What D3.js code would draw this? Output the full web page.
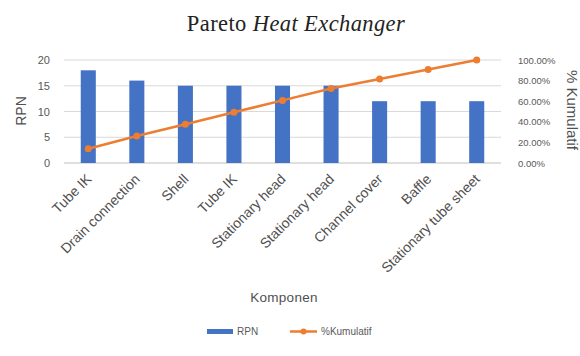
<!DOCTYPE html>
<html><head><meta charset="utf-8">
<script src="https://cdn.jsdelivr.net/npm/d3@7"></script>
<style>body{margin:0;background:#fff}</style>
</head><body>
<svg id="c" width="580" height="356"></svg>
<script>
const categories = ["Tube IK","Drain connection","Shell","Tube IK","Stationary head","Stationary head","Channel cover","Baffle","Stationary tube sheet"];
const rpn = [18,16,15,15,15,15,12,12,12];
const cumulative = [13.85,26.15,37.69,49.23,60.77,72.31,81.54,90.77,100];
const leftTicks = [0,5,10,15,20];
const rightTicks = [0,20,40,60,80,100];

const svg = d3.select("#c");
const L = 64, R = 501, T = 60, B = 163;
const x = d3.scaleBand().domain(categories.map((d,i)=>i)).range([L,R]).paddingInner(0.69).paddingOuter(0.345);
const y = d3.scaleLinear().domain([0,20]).range([B,T]);
const y2 = d3.scaleLinear().domain([0,100]).range([B,T]);

// grid
svg.append("g").selectAll("line").data(leftTicks).join("line")
  .attr("x1",L).attr("x2",R).attr("y1",d=>y(d)).attr("y2",d=>y(d))
  .attr("stroke",d=>d===0?"#bfbfbf":"#d9d9d9").attr("stroke-width",1);

// left axis
const ga = svg.append("g").attr("transform",`translate(${L},0)`)
  .call(d3.axisLeft(y).tickValues(leftTicks).tickSize(0).tickPadding(14));
ga.select(".domain").remove();
ga.selectAll("text").attr("font-family","Liberation Sans, Arial").attr("font-size",11).attr("fill","#595959");

// right axis
const gb = svg.append("g").attr("transform",`translate(${R},0)`)
  .call(d3.axisRight(y2).tickValues(rightTicks).tickSize(0).tickPadding(17).tickFormat(d=>d.toFixed(2)+"%"));
gb.select(".domain").remove();
gb.selectAll("text").attr("font-family","Liberation Sans, Arial").attr("font-size",9.5).attr("fill","#595959");

// bars
svg.append("g").selectAll("rect").data(rpn).join("rect")
  .attr("x",(d,i)=>x(i)).attr("width",x.bandwidth())
  .attr("y",d=>y(d)).attr("height",d=>B-y(d)).attr("fill","#4472C4");

// line
const line = d3.line().x((d,i)=>x(i)+x.bandwidth()/2).y(d=>y2(d));
svg.append("path").datum(cumulative).attr("d",line).attr("fill","none")
  .attr("stroke","#ED7D31").attr("stroke-width",2.5);
svg.append("g").selectAll("circle").data(cumulative).join("circle")
  .attr("cx",(d,i)=>x(i)+x.bandwidth()/2).attr("cy",d=>y2(d)).attr("r",3.5).attr("fill","#ED7D31");

// x labels
svg.append("g").selectAll("text").data(categories).join("text")
  .attr("transform",(d,i)=>`translate(${x(i)+x.bandwidth()/2+4},${B+17}) rotate(-45)`)
  .attr("text-anchor","end").attr("font-family","Liberation Sans, Arial").attr("font-size",14)
  .attr("fill","#505050").text(d=>d);

// titles
svg.append("text").attr("x",296).attr("y",31).attr("text-anchor","middle")
  .attr("font-family","Liberation Serif, Times New Roman").attr("font-size",22.5).attr("letter-spacing",0.4).attr("fill","#222")
  .html('Pareto <tspan font-style="italic">Heat Exchanger</tspan>');
svg.append("text").attr("transform","translate(26,111) rotate(-90)").attr("text-anchor","middle")
  .attr("font-family","Liberation Sans, Arial").attr("font-size",14).attr("fill","#505050").text("RPN");
svg.append("text").attr("transform","translate(567,110) rotate(90)").attr("text-anchor","middle")
  .attr("font-family","Liberation Sans, Arial").attr("font-size",15).attr("fill","#505050").text("% Kumulatif");
svg.append("text").attr("x",284).attr("y",302).attr("text-anchor","middle")
  .attr("font-family","Liberation Sans, Arial").attr("font-size",13.5).attr("letter-spacing",0.3).attr("fill","#505050").text("Komponen");

// legend
const lg = svg.append("g").attr("font-family","Liberation Sans, Arial").attr("font-size",10).attr("fill","#595959");
lg.append("rect").attr("x",207).attr("y",329).attr("width",26).attr("height",5).attr("fill","#4472C4");
lg.append("text").attr("x",237).attr("y",335).text("RPN");
lg.append("line").attr("x1",290).attr("x2",317).attr("y1",331.5).attr("y2",331.5).attr("stroke","#ED7D31").attr("stroke-width",2.5);
lg.append("circle").attr("cx",303.5).attr("cy",331.5).attr("r",3).attr("fill","#ED7D31");
lg.append("text").attr("x",321).attr("y",335).text("%Kumulatif");
</script>
</body></html>
